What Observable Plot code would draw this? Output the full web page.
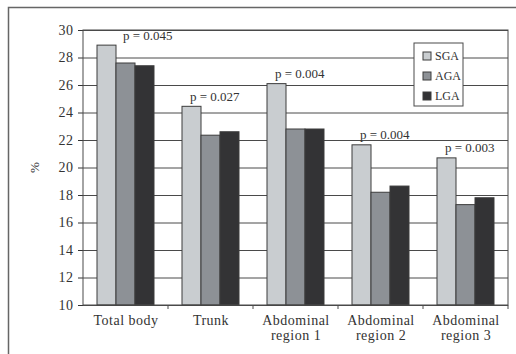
<!DOCTYPE html>
<html><head><meta charset="utf-8">
<script src="https://cdn.jsdelivr.net/npm/d3@7"></script>
<script src="https://cdn.jsdelivr.net/npm/@observablehq/plot@0.6"></script>
<style>
body{margin:0;background:#fff;}
#chart{position:relative;width:516px;height:354px;}
</style></head><body><div id="chart"></div>
<script>
const categories = ["Total body", "Trunk", "Abdominal\nregion 1", "Abdominal\nregion 2", "Abdominal\nregion 3"];
const groups = ["SGA", "AGA", "LGA"];
const sga = [28.9, 24.45, 26.1, 21.65, 20.7];
const aga = [27.6, 22.35, 22.8, 18.2, 17.3];
const lga = [27.4, 22.6, 22.8, 18.65, 17.8];
const pLabels = ["p = 0.045", "p = 0.027", "p = 0.004", "p = 0.004", "p = 0.003"];
const yTicks = [10, 12, 14, 16, 18, 20, 22, 24, 26, 28, 30];
const colors = ["#c9cdd0", "#8d9196", "#333335"];
const yLabel = "%";

const series = [sga, aga, lga];
const rows = [];
categories.forEach((c, i) => groups.forEach((g, j) => rows.push({category: c, group: g, value: series[j][i]})));
const annot = categories.map((c, i) => ({category: c, value: sga[i], label: pLabels[i]}));

const ink = "#4a4a4a";
const chart = Plot.plot({
  width: 516, height: 354,
  marginLeft: 82, marginRight: 8, marginTop: 30, marginBottom: 49,
  style: {fontFamily: "'Liberation Serif', 'Times New Roman', serif", fontSize: "13px", color: "#333", background: "transparent"},
  fx: {domain: categories, padding: 0},
  x: {domain: groups, paddingInner: 0, paddingOuter: 0.7, axis: null},
  y: {domain: [10, 30]},
  color: {domain: groups, range: colors},
  marks: [
    Plot.ruleY(yTicks, {stroke: ink, strokeWidth: 1}),
    Plot.axisFx({anchor: "bottom", tickSize: 0, tickPadding: 8, lineHeight: 1.12, fontSize: 14, label: null}),
    Plot.axisY({ticks: yTicks, tickSize: 5, tickPadding: 5, fontSize: 14, label: null}),
    Plot.barY(rows, {fx: "category", x: "group", y1: 10, y2: "value", fill: "group", stroke: "#3c3c3c", strokeWidth: 1}),
    Plot.text(annot.filter((d, i) => i === 0), {fx: "category", y: "value", text: "label", textAnchor: "start", lineAnchor: "bottom", dy: -6, dx: -3, fill: "#333"}),
    Plot.text(annot.filter((d, i) => i > 0), {fx: "category", y: "value", text: "label", textAnchor: "start", lineAnchor: "bottom", dy: -6, dx: -21, fill: "#333"})
  ]
});

const svg = d3.select(chart);
svg.selectAll("g[aria-label='fx-axis tick label'] text, g[aria-label='y-axis tick label'] text").attr("letter-spacing", "0.5px");
const fxs = chart.scale("fx");
const ys = chart.scale("y");
const xLeft = fxs.apply(categories[0]);
const xRight = fxs.apply(categories[categories.length - 1]) + fxs.bandwidth;
const yTop = ys.apply(30), yBottom = ys.apply(10);

// plot area frame
svg.append("rect").attr("x", xLeft).attr("y", yTop).attr("width", xRight - xLeft).attr("height", yBottom - yTop)
  .attr("fill", "none").attr("stroke", ink).attr("stroke-width", 1);
// category boundary ticks
categories.slice(1).forEach(c => {
  const xx = fxs.apply(c);
  svg.append("line").attr("x1", xx).attr("x2", xx).attr("y1", yBottom).attr("y2", yBottom + 4).attr("stroke", ink);
});
svg.append("line").attr("x1", xRight).attr("x2", xRight).attr("y1", yBottom).attr("y2", yBottom + 4).attr("stroke", ink);
// outer frame (top and left edges)
svg.append("path").attr("d", "M8.5,354V7.5H516").attr("fill", "none").attr("stroke", "#666").attr("stroke-width", 1.5);

// y-axis label
svg.append("text").attr("transform", `translate(39,${(yTop + yBottom) / 2}) rotate(-90)`)
  .attr("text-anchor", "middle").attr("font-size", 13).attr("fill", "#333").text(yLabel);

// legend
const lg = svg.append("g").attr("transform", "translate(414,43)");
lg.append("rect").attr("width", 49).attr("height", 63).attr("fill", "#fff").attr("stroke", ink);
groups.forEach((g, i) => {
  lg.append("rect").attr("x", 9).attr("y", 9 + 20 * i).attr("width", 8).attr("height", 8)
    .attr("fill", colors[i]).attr("stroke", "#3c3c3c");
  lg.append("text").attr("x", 21).attr("y", 17 + 20 * i).attr("text-anchor", "start")
    .attr("font-size", 12).attr("fill", "#333").text(g);
});

document.getElementById("chart").appendChild(chart);
</script></body></html>
